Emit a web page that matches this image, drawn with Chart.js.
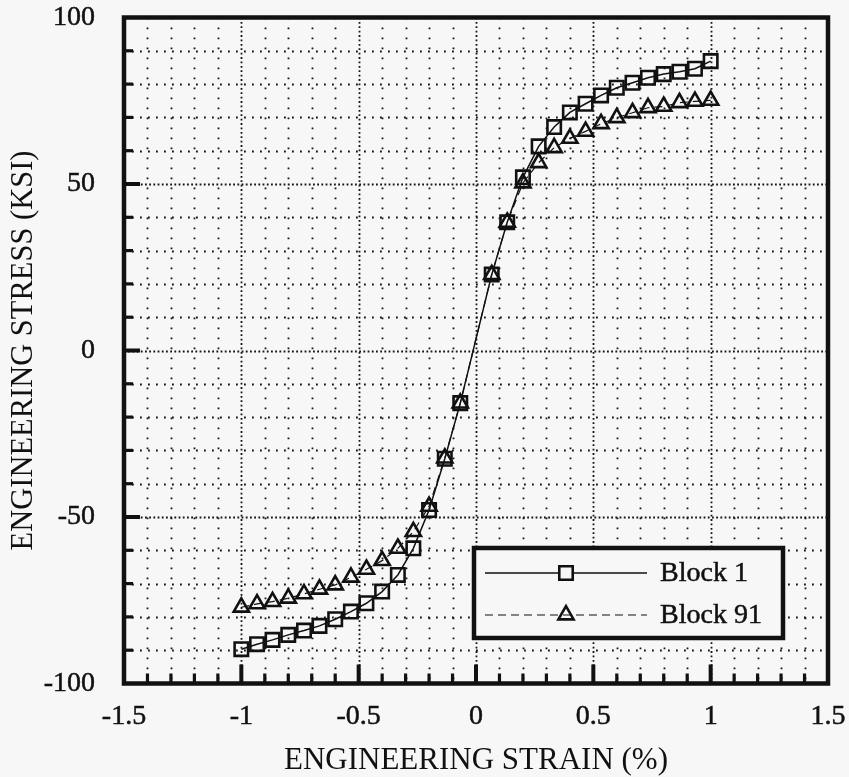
<!DOCTYPE html>
<html>
<head>
<meta charset="utf-8">
<style>
  html, body { margin: 0; padding: 0; background: #f7f7f7; }
  canvas { display: block; }
</style>
<script src="https://cdn.jsdelivr.net/npm/chart.js@4.4.1/dist/chart.umd.min.js"></script>
</head>
<body>
<canvas id="c" width="849" height="777"></canvas>
<script>
// Engineering strain (%) at each recorded point
const strain = [-1.000, -0.933, -0.867, -0.800, -0.733, -0.667, -0.600, -0.533, -0.467, -0.400,
                -0.333, -0.267, -0.200, -0.133, -0.067, 0.067, 0.133, 0.200, 0.267, 0.333,
                0.400, 0.467, 0.533, 0.600, 0.667, 0.733, 0.800, 0.867, 0.933, 1.000];

// Engineering stress (ksi), first cycle block
const block1 = [-89.7, -88.2, -86.9, -85.4, -84.1, -82.7, -80.7, -78.4, -75.9, -72.4,
                -67.4, -59.4, -47.9, -32.5, -15.8, 22.8, 38.5, 52.0, 61.3, 67.1,
                71.5, 74.1, 76.6, 78.9, 80.4, 81.9, 83.0, 83.7, 84.6, 86.9];

// Engineering stress (ksi), block 91
const block91 = [-77.1, -76.1, -75.4, -74.4, -73.1, -71.7, -70.4, -68.1, -65.7, -63.1,
                 -59.4, -54.4, -46.8, -32.3, -15.8, 22.8, 38.5, 50.3, 56.4, 60.9,
                 63.7, 65.8, 68.1, 69.9, 71.4, 72.9, 73.3, 74.4, 74.8, 75.1];

const seriesNames = ['Block 1', 'Block 91'];
const xTickLabels = ['-1.5', '-1', '-0.5', '0', '0.5', '1', '1.5'];
const yTickLabels = ['-100', '-50', '0', '50', '100'];
const xTitle = 'ENGINEERING STRAIN (%)';
const yTitle = 'ENGINEERING STRESS (KSI)';

const BG = '#f7f7f7';
const INK = '#111111';
const SERIF = '"Liberation Serif", "Times New Roman", serif';

function pts(ys) { return strain.map((x, i) => ({ x: x, y: ys[i] })); }
function labelFor(list, v) {
  const hit = list.find(l => Math.abs(parseFloat(l) - v) < 1e-9);
  return hit === undefined ? '' : hit;
}

// Markers drawn with the same geometry Chart.js uses for 'rect' and 'triangle'
function drawMarker(ctx, style, x, y, r) {
  ctx.beginPath();
  if (style === 'rect') {
    const s = Math.SQRT1_2 * r;
    ctx.rect(x - s, y - s, 2 * s, 2 * s);
  } else {
    let rad = 0;
    ctx.moveTo(x + Math.sin(rad) * r, y - Math.cos(rad) * r);
    rad += 2 * Math.PI / 3;
    ctx.lineTo(x + Math.sin(rad) * r, y - Math.cos(rad) * r);
    rad += 2 * Math.PI / 3;
    ctx.lineTo(x + Math.sin(rad) * r, y - Math.cos(rad) * r);
    ctx.closePath();
  }
  ctx.stroke();
}

const paperPlugin = {
  id: 'paperPlot',
  beforeDraw(chart) {
    const ctx = chart.ctx;
    ctx.save();
    ctx.fillStyle = BG;
    ctx.fillRect(0, 0, chart.width, chart.height);
    ctx.restore();
  },
  beforeDatasetsDraw(chart) {
    const { ctx, chartArea: a, scales: { x, y } } = chart;
    ctx.save();
    ctx.strokeStyle = '#151515';
    ctx.lineWidth = 1.8;
    // vertical dotted grid every 0.1 %, denser at every 0.5 %
    for (let i = -14; i <= 14; i++) {
      const px = Math.round(x.getPixelForValue(i / 10)) + 0.5;
      ctx.setLineDash(i % 5 === 0 ? [1.8, 2.6] : [1.8, 8.2]);
      ctx.beginPath(); ctx.moveTo(px, a.top); ctx.lineTo(px, a.bottom); ctx.stroke();
    }
    // horizontal dotted grid every 10 ksi, denser at every 50 ksi
    for (let j = -9; j <= 9; j++) {
      const py = Math.round(y.getPixelForValue(j * 10)) + 0.5;
      ctx.setLineDash(j % 5 === 0 ? [1.8, 2.4] : [1.8, 6.2]);
      ctx.beginPath(); ctx.moveTo(a.left, py); ctx.lineTo(a.right, py); ctx.stroke();
    }
    ctx.restore();
  },
  afterDatasetsDraw(chart) {
    const { ctx, chartArea: a, scales: { x, y } } = chart;
    ctx.save();
    ctx.setLineDash([]);
    ctx.fillStyle = INK;
    // inward tick marks on the strain axis
    for (let i = -14; i <= 14; i++) {
      const px = x.getPixelForValue(i / 10);
      const major = i % 5 === 0;
      const len = major ? 19 : 10, w = major ? 4 : 3.2;
      ctx.fillRect(px - w / 2, a.bottom - len, w, len);
    }
    // inward tick marks on the stress axis
    for (let j = -9; j <= 9; j++) {
      const py = y.getPixelForValue(j * 10);
      const major = j % 5 === 0;
      const len = major ? 16 : 9, w = major ? 4 : 3.2;
      ctx.fillRect(a.left, py - w / 2, len, w);
    }
    // heavy frame
    ctx.strokeStyle = INK;
    ctx.lineWidth = 4.5;
    ctx.strokeRect(a.left, a.top, a.right - a.left, a.bottom - a.top);

    // boxed legend inside the plot
    const box = { l: 474, t: 548, r: 783, b: 638 };
    ctx.fillStyle = BG;
    ctx.fillRect(box.l, box.t, box.r - box.l, box.b - box.t);
    ctx.lineWidth = 4.5;
    ctx.strokeRect(box.l, box.t, box.r - box.l, box.b - box.t);
    const rows = [573, 615];
    chart.data.datasets.forEach((ds, k) => {
      const yy = rows[k];
      ctx.strokeStyle = INK;
      ctx.lineWidth = ds.borderWidth;
      ctx.setLineDash(ds.borderDash || []);
      ctx.beginPath(); ctx.moveTo(485, yy); ctx.lineTo(647, yy); ctx.stroke();
      ctx.setLineDash([]);
      ctx.fillStyle = BG;
      ctx.lineWidth = ds.pointBorderWidth;
      if (ds.pointStyle === 'rect') {
        const s = Math.SQRT1_2 * ds.pointRadius;
        ctx.fillRect(566 - s, yy - s, 2 * s, 2 * s);
      }
      drawMarker(ctx, ds.pointStyle, 566, yy, ds.pointRadius);
      ctx.fillStyle = INK;
      ctx.strokeStyle = INK;
      ctx.lineWidth = 0.5;
      ctx.font = '28px ' + SERIF;
      ctx.textBaseline = 'middle';
      ctx.textAlign = 'left';
      ctx.fillText(ds.label, 660, yy + 1);
      ctx.strokeText(ds.label, 660, yy + 1);
    });
    ctx.restore();
  }
};

new Chart(document.getElementById('c'), {
  type: 'scatter',
  data: {
    datasets: [
      {
        label: seriesNames[0],
        data: pts(block1),
        showLine: true,
        borderColor: INK,
        borderWidth: 1.5,
        tension: 0,
        pointStyle: 'rect',
        pointRadius: 9.5,
        pointBorderWidth: 2.6,
        pointBorderColor: INK,
        pointBackgroundColor: 'rgba(0,0,0,0)'
      },
      {
        label: seriesNames[1],
        data: pts(block91),
        showLine: true,
        borderColor: INK,
        borderWidth: 1.2,
        borderDash: [8, 5],
        tension: 0,
        pointStyle: 'triangle',
        pointRadius: 8.8,
        pointBorderWidth: 2.6,
        pointBorderColor: INK,
        pointBackgroundColor: 'rgba(0,0,0,0)'
      }
    ]
  },
  options: {
    responsive: false,
    animation: false,
    devicePixelRatio: 1,
    layout: { padding: { top: 17.5, right: 21, bottom: 0, left: 0 } },
    plugins: { legend: { display: false }, tooltip: { enabled: false } },
    scales: {
      x: {
        type: 'linear',
        min: -1.5, max: 1.5,
        grid: { display: false },
        border: { display: false },
        ticks: {
          stepSize: 0.5,
          color: INK,
          padding: 8,
          maxRotation: 0,
          textStrokeColor: INK,
          textStrokeWidth: 0.5,
          font: { family: SERIF, size: 28 },
          callback: v => labelFor(xTickLabels, v)
        },
        title: {
          display: true,
          text: xTitle,
          color: INK,
          font: { family: SERIF, size: 31 },
          padding: { top: 0, bottom: -2 }
        },
        afterFit: s => { s.height = 93.5; s.paddingLeft = 0; s.paddingRight = 0; }
      },
      y: {
        type: 'linear',
        min: -100, max: 100,
        grid: { display: false },
        border: { display: false },
        ticks: {
          stepSize: 50,
          color: INK,
          padding: 21,
          textStrokeColor: INK,
          textStrokeWidth: 0.5,
          font: { family: SERIF, size: 28 },
          callback: v => labelFor(yTickLabels, v)
        },
        title: {
          display: true,
          text: yTitle,
          color: INK,
          font: { family: SERIF, size: 30.5 },
          padding: { top: 6, bottom: 0 }
        },
        afterFit: s => { s.width = 124; s.paddingTop = 0; s.paddingBottom = 0; }
      }
    }
  },
  plugins: [paperPlugin]
});
</script>
</body>
</html>
